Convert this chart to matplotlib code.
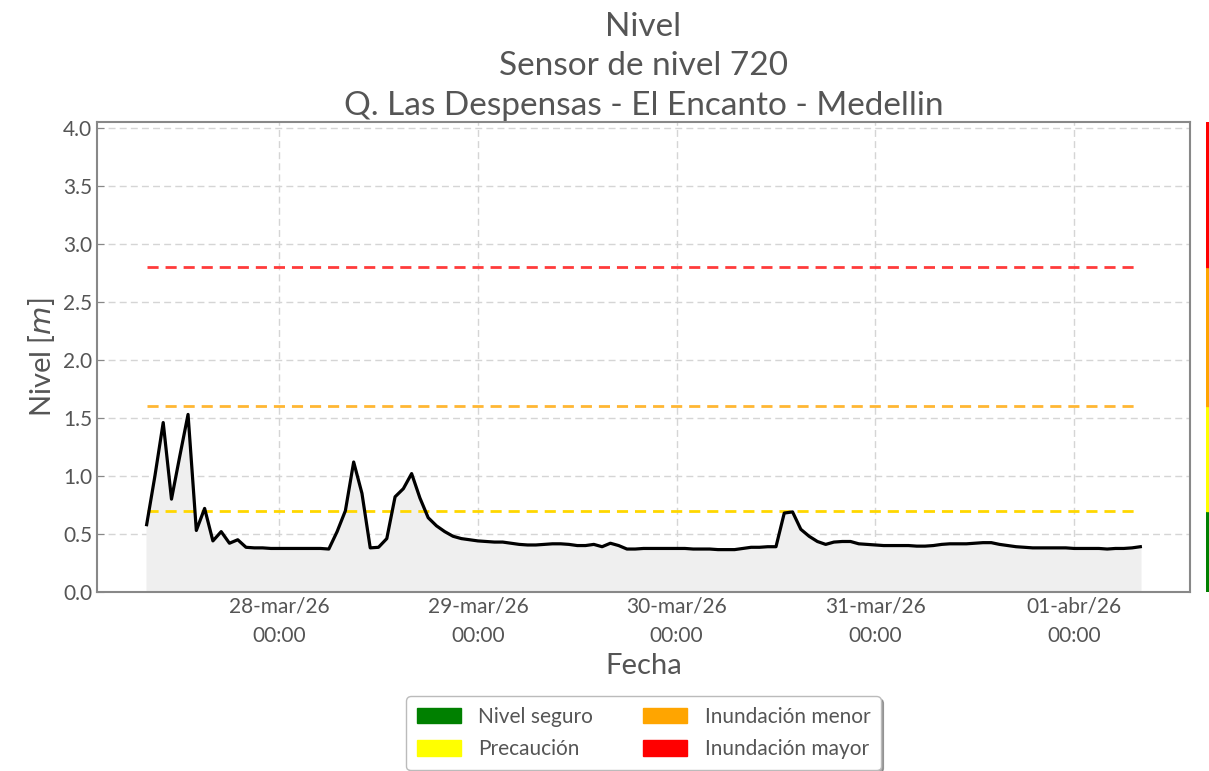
import matplotlib
matplotlib.use("Agg")
import matplotlib.pyplot as plt
import matplotlib.patches as mpatches
import pandas as pd

# Hourly level readings, 27-mar-26 08:00 to 01-abr-26 08:00
start = "2026-03-27 08:00"
nivel = [
    0.58, 1.00, 1.46, 0.80, 1.17, 1.53, 0.53, 0.72, 0.44, 0.52,
    0.42, 0.45, 0.385, 0.38, 0.38, 0.375, 0.375, 0.375, 0.375, 0.375,
    0.375, 0.375, 0.37, 0.52, 0.70, 1.12, 0.85, 0.38, 0.385, 0.46,
    0.82, 0.89, 1.02, 0.81, 0.64, 0.57, 0.52, 0.48, 0.46, 0.45,
    0.44, 0.435, 0.43, 0.43, 0.42, 0.41, 0.405, 0.405, 0.41, 0.415,
    0.415, 0.41, 0.40, 0.40, 0.41, 0.39, 0.42, 0.40, 0.37, 0.37,
    0.375, 0.375, 0.375, 0.375, 0.375, 0.375, 0.37, 0.37, 0.37, 0.365,
    0.365, 0.365, 0.375, 0.385, 0.385, 0.39, 0.39, 0.68, 0.69, 0.54,
    0.48, 0.435, 0.41, 0.43, 0.435, 0.435, 0.415, 0.41, 0.405, 0.40,
    0.40, 0.40, 0.40, 0.395, 0.395, 0.40, 0.41, 0.415, 0.415, 0.415,
    0.42, 0.425, 0.425, 0.41, 0.40, 0.39, 0.385, 0.38, 0.38, 0.38,
    0.38, 0.38, 0.375, 0.375, 0.375, 0.375, 0.37, 0.375, 0.375, 0.38,
    0.39,
]
fechas = pd.date_range(start, periods=len(nivel), freq="h")

# umbrales
umbral_valores = [0.7, 1.6, 2.8]
umbral_colores = ["#ffd700", "#ffb733", "#ff3b3b"]

# bandas de la barra lateral
bandas = [(0, 0.7), (0.7, 1.6), (1.6, 2.8), (2.8, 4.05)]
bandas_colores = ["#008000", "#ffff00", "#ffa500", "#ff0000"]

tick_fechas = pd.to_datetime(["2026-03-28", "2026-03-29", "2026-03-30", "2026-03-31", "2026-04-01"])
tick_labels = ["28-mar/26\n00:00", "29-mar/26\n00:00", "30-mar/26\n00:00", "31-mar/26\n00:00", "01-abr/26\n00:00"]

leyenda_nombres = ["Nivel seguro", "Precaución", "Inundación menor", "Inundación mayor"]

plt.rcParams["font.family"] = ["Lato", "DejaVu Sans"]
texto = "#555555"

fig = plt.figure(figsize=(12.09, 7.71), dpi=100)
ax = fig.add_axes([0.0802, 0.2322, 0.9041, 0.6096])

ax.fill_between(fechas, nivel, color="#efefef", zorder=1)
ax.plot(fechas, nivel, color="black", lw=2.3, zorder=3)
for v, c in zip(umbral_valores, umbral_colores):
    ax.plot([fechas[0], fechas[-1]], [v, v], color=c, lw=2, ls=(0, (4, 2.5)), zorder=2)

ax.set_ylim(0, 4.05)
ax.set_yticks([0, 0.5, 1.0, 1.5, 2.0, 2.5, 3.0, 3.5, 4.0])
ax.set_yticklabels(["0.0", "0.5", "1.0", "1.5", "2.0", "2.5", "3.0", "3.5", "4.0"])
ax.set_xticks(tick_fechas)
ax.set_xticklabels(tick_labels, linespacing=1.6)
ax.margins(x=0.05)
ax.grid(True, ls=(0, (5, 3)), color="#d5d5d5", lw=1)
ax.set_axisbelow(True)
ax.tick_params(direction="in", colors="#888888", labelcolor=texto, labelsize=15, length=5)
for s in ax.spines.values():
    s.set_color("#888888")
    s.set_linewidth(1.5)

ax.set_ylabel("Nivel [$m$]", fontsize=21, color=texto)
ax.set_xlabel("Fecha", fontsize=21, color=texto, labelpad=5)
ax.set_title("Nivel\nSensor de nivel 720\nQ. Las Despensas - El Encanto - Medellin",
             fontsize=24, color=texto, linespacing=1.4, pad=5)

handles = [mpatches.Patch(color=c, label=n) for c, n in zip(bandas_colores, leyenda_nombres)]
leg = ax.legend(handles=handles, loc="upper center", bbox_to_anchor=(0.5, -0.2), ncol=2,
                fontsize=15, shadow=True, fancybox=True, handlelength=2.1, handleheight=0.75,
                handletextpad=0.85, columnspacing=2.4, labelspacing=0.6,
                labelcolor=texto, frameon=True, borderpad=0.5)
leg.get_frame().set_edgecolor("#bbbbbb")

# barra lateral de umbrales
bar = fig.add_axes([0.9975, 0.2322, 0.01, 0.6096])
for (lo, hi), c in zip(bandas, bandas_colores):
    bar.axhspan(lo, hi, color=c)
bar.set_ylim(0, 4.05)
bar.axis("off")

fig.savefig("out.png", dpi=100)
